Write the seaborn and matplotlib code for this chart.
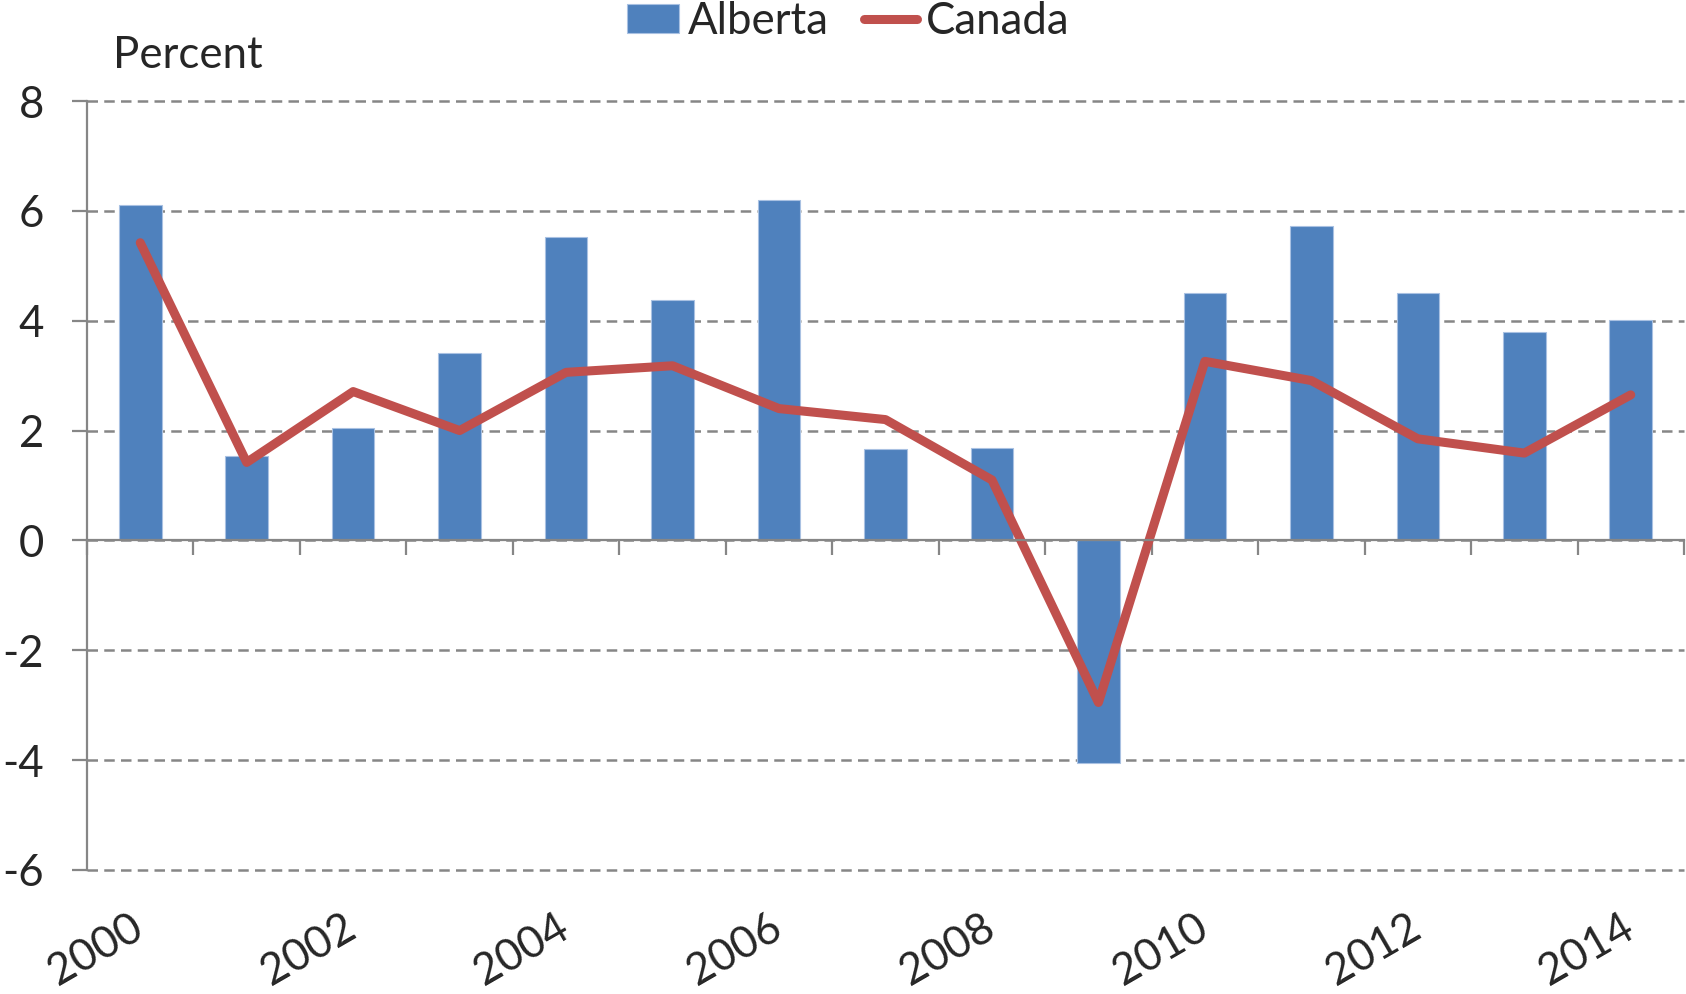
import numpy as np
import pandas as pd
import matplotlib
matplotlib.use("Agg")
import matplotlib.pyplot as plt
import matplotlib.transforms as mtransforms
from matplotlib.patches import Patch
from matplotlib.lines import Line2D
import seaborn as sns

years = [str(y) for y in range(2000, 2015)]
alberta = [6.11, 1.53, 2.05, 3.42, 5.52, 4.38, 6.19, 1.67, 1.69, -4.05, 4.50, 5.72, 4.50, 3.79, 4.01]
canada = [5.42, 1.42, 2.71, 2.00, 3.06, 3.18, 2.40, 2.20, 1.10, -2.95, 3.26, 2.91, 1.85, 1.59, 2.65]
yticks = [-6, -4, -2, 0, 2, 4, 6, 8]
label_years = years[::2]

sns.set_theme(style="white")
plt.rcParams['font.family'] = ['Lato', 'DejaVu Sans']
plt.rcParams['axes.unicode_minus'] = False

BLUE = "#4F81BD"
RED = "#C0504D"
GREY = "#868686"
FS = 31.5

df = pd.DataFrame({"year": years, "Alberta": alberta, "Canada": canada,
                   "pos": np.arange(len(years))})

fig = plt.figure(figsize=(16.86, 9.94), dpi=100)
ax = fig.add_axes([87/1686, 1-870/994, (1684-87)/1686, (870-101)/994])

sns.barplot(data=df, x="year", y="Alberta", color=BLUE, width=0.4,
            saturation=1, edgecolor="#A9C1E2", linewidth=0.8, ax=ax, zorder=2)
sns.lineplot(data=df, x="pos", y="Canada", color=RED, linewidth=6.5,
             solid_capstyle="round", ax=ax, zorder=3)

ax.set_xlim(-0.5, len(years) - 0.5)
ax.set_ylim(min(yticks), max(yticks))
ax.set_xlabel("")
ax.set_ylabel("")

ax.set_yticks(yticks)
ax.set_yticklabels([str(t) for t in yticks], fontsize=FS)
ax.yaxis.grid(True, color=GREY, linestyle=(0, (4.2, 2.5)), linewidth=1.8, zorder=0)
ax.set_axisbelow(True)
for gl in ax.get_ygridlines():
    gl.set_clip_on(False)

for s in ["top", "right"]:
    ax.spines[s].set_visible(False)
ax.spines["left"].set_color(GREY)
ax.spines["left"].set_linewidth(1.6)
ax.spines["bottom"].set_color(GREY)
ax.spines["bottom"].set_linewidth(1.6)
ax.spines["bottom"].set_position(("data", 0))
ax.spines["bottom"].set_zorder(4)

ax.tick_params(axis="y", which="major", length=11, width=1.6, color=GREY,
               direction="out", pad=20, labelsize=FS, left=True)

bounds = np.arange(len(years) + 1) - 0.5
ax.set_xticks(bounds)
ax.set_xticklabels([""] * len(bounds))
ax.tick_params(axis="x", which="major", length=11, width=1.6, color=GREY,
               direction="out", bottom=True)
label_pos = [years.index(y) for y in label_years]
ax.set_xticks(label_pos, minor=True)
ax.set_xticklabels(label_years, minor=True, fontsize=FS, rotation=30,
                   ha="right", va="top")
ax.tick_params(axis="x", which="minor", length=0, pad=264, bottom=True)
offset = mtransforms.ScaledTranslation(10/100, 0, fig.dpi_scale_trans)
for lbl in ax.get_xticklabels(minor=True):
    lbl.set_transform(lbl.get_transform() + offset)

if ax.get_legend() is not None:
    ax.get_legend().remove()

fig.text(113/1686, 1-68/994, "Percent", fontsize=FS, ha="left", va="baseline")

handles = [Patch(facecolor=BLUE, edgecolor="#A9C1E2", linewidth=0.8),
           Line2D([0], [0], color=RED, linewidth=6.5, solid_capstyle="round")]
fig.legend(handles, ["Alberta", "Canada"], loc="center",
           bbox_to_anchor=(848/1686, 1-21/994), ncol=2, frameon=False,
           fontsize=FS, handlelength=1.2, handleheight=0.65,
           handletextpad=0.2, columnspacing=0.8, borderpad=0, borderaxespad=0)

fig.savefig("out.png", dpi=100)
